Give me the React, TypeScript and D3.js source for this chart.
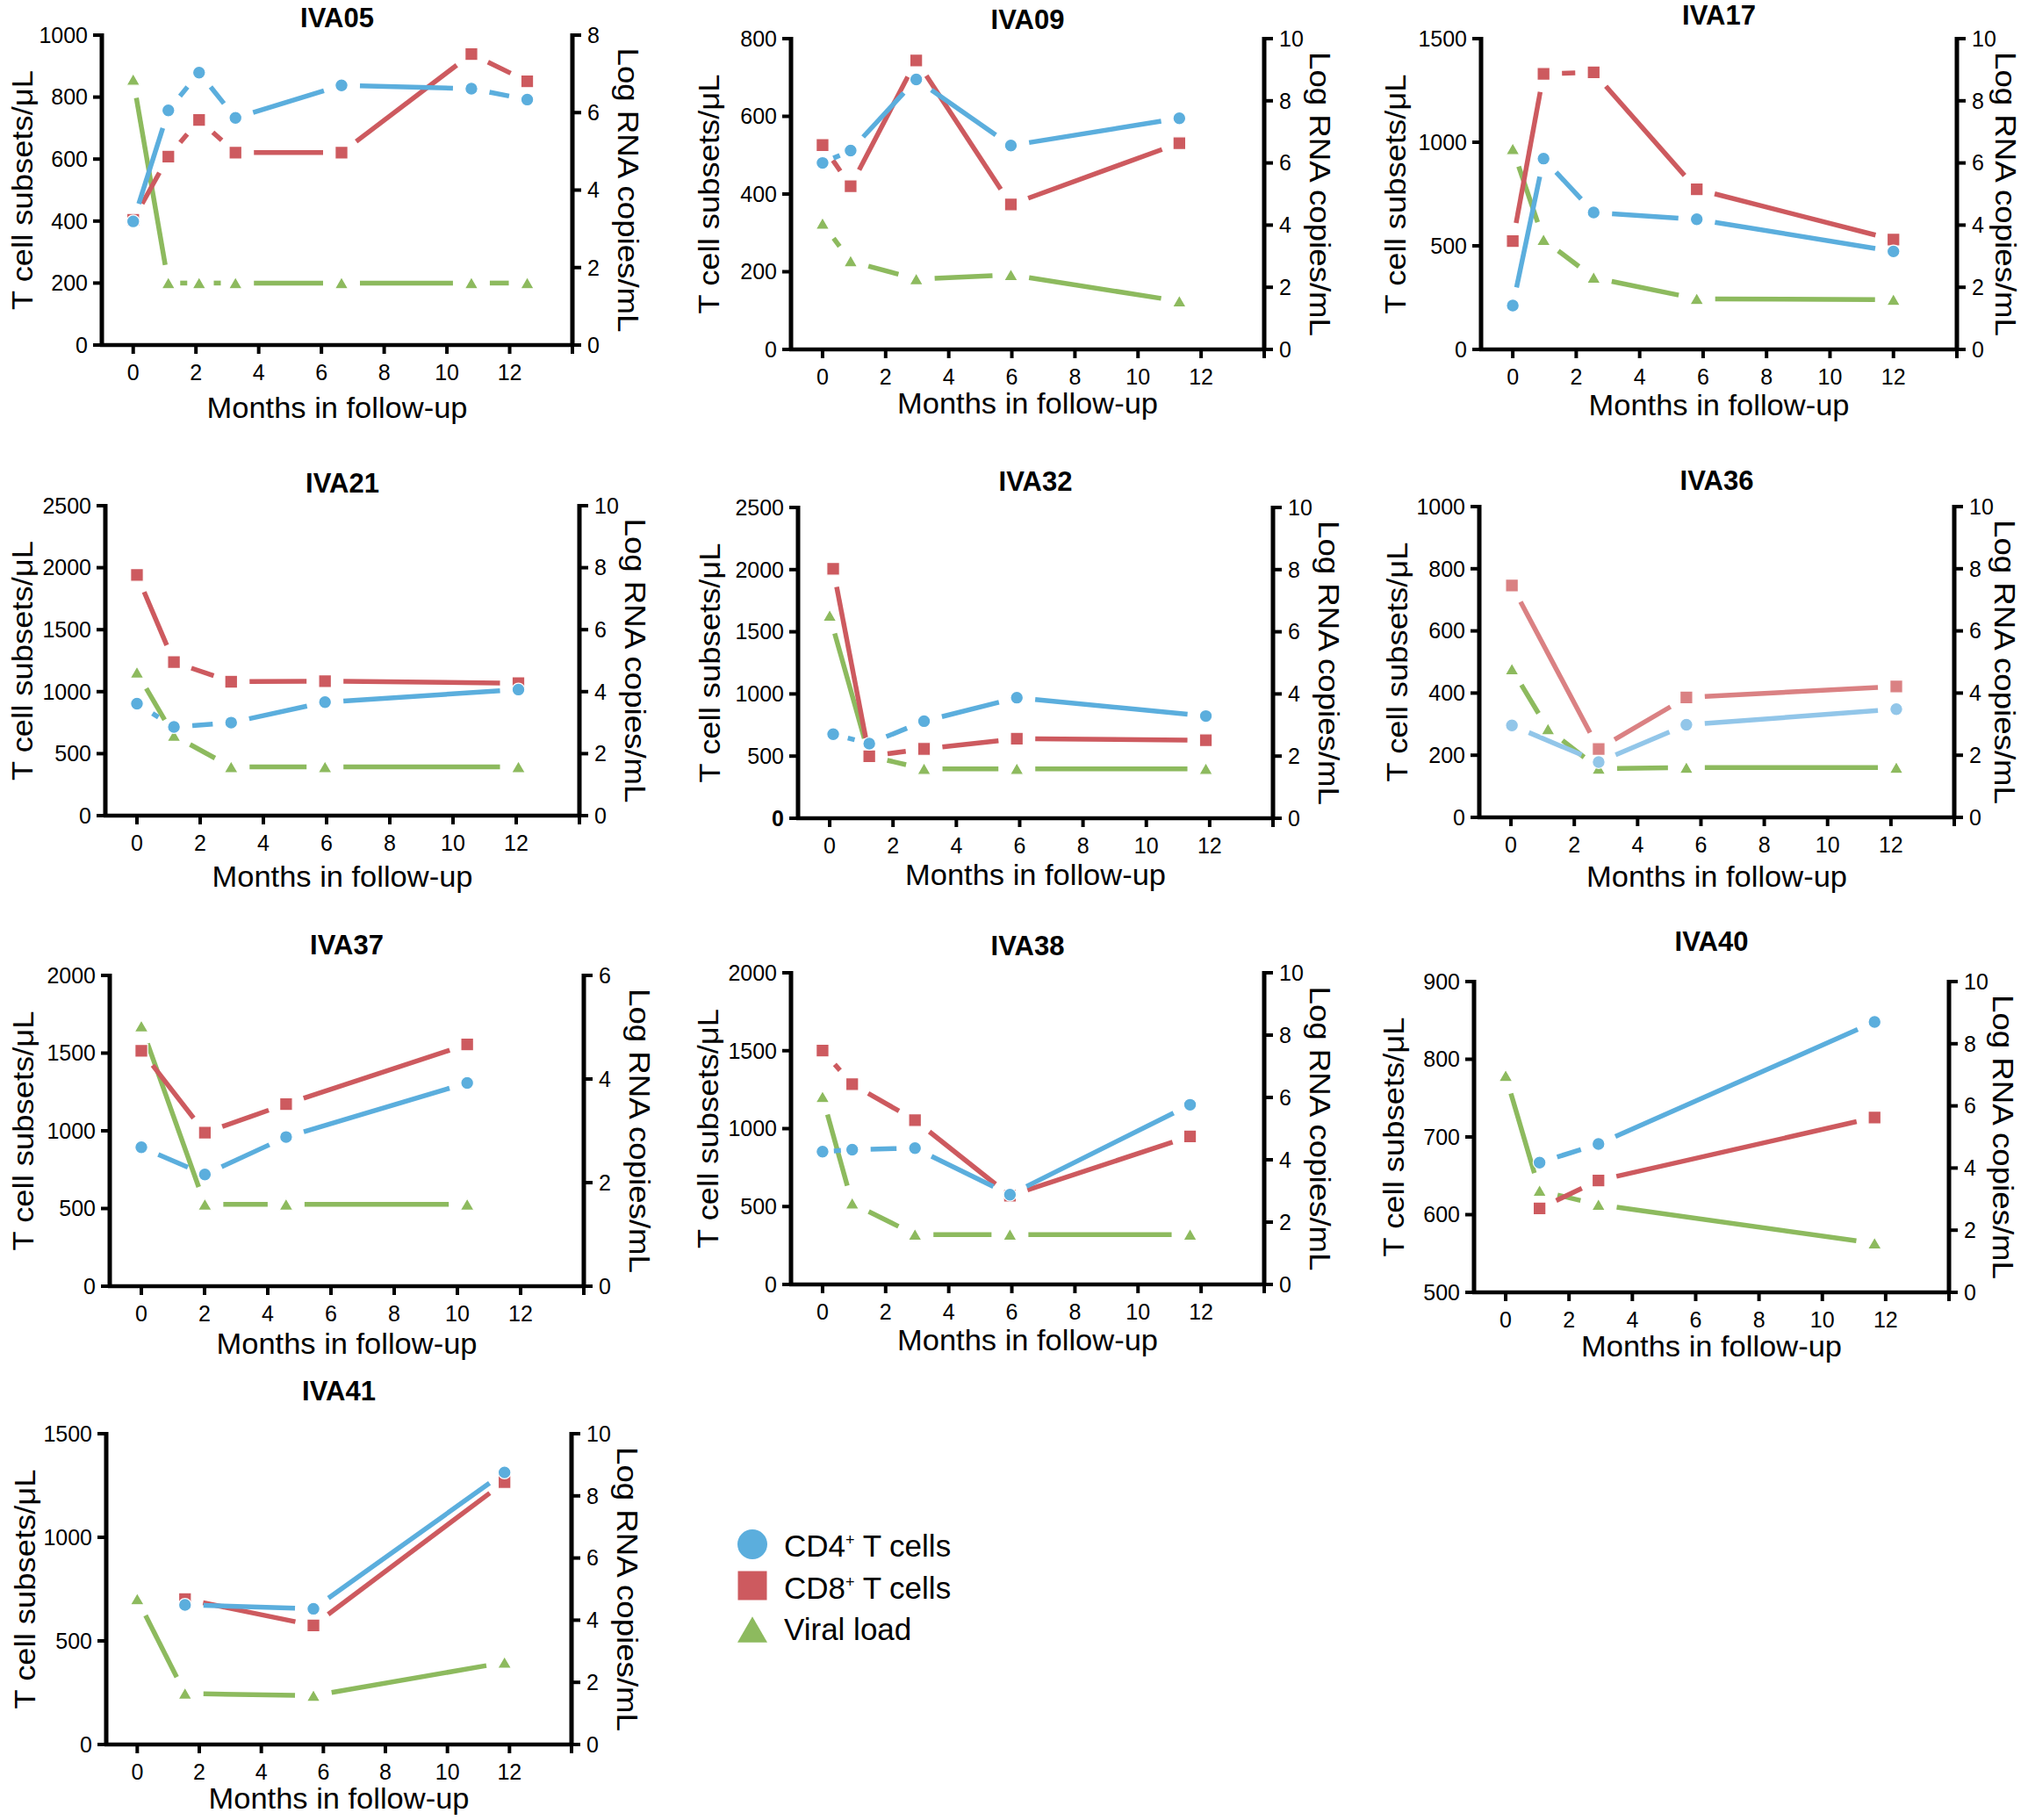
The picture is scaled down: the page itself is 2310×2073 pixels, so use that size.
import React from 'react';
import * as d3 from 'd3';

const W = 2310;
const H = 2073;

const monthDomain = [-1, 14];
const monthTickLabels = [0, 2, 4, 6, 8, 10, 12];
const monthTickMarks = [0, 2, 4, 6, 8, 10, 12, 14];

const legendLabels = ['CD4', 'CD8', 'Viral load'];

// IVA05
const iva05Months = [0, 1.12, 2.1, 3.26, 6.64, 10.78, 12.56];
const iva05CD4 = [399, 757, 879, 733, 838, 827, 792];
const iva05CD8 = [404, 608, 726, 621, 621, 939, 851];
const iva05VL = [6.85, 1.6, 1.6, 1.6, 1.6, 1.6, 1.6];
const iva05LeftTicks = [0, 200, 400, 600, 800, 1000];
const iva05RightTicks = [0, 2, 4, 6, 8];

// IVA09
const iva09Months = [0, 0.89, 2.97, 5.97, 11.31];
const iva09CD4 = [480, 512, 695, 525, 595];
const iva09CD8 = [526, 420, 744, 373, 531];
const iva09VL = [4.05, 2.84, 2.26, 2.4, 1.55];
const iva09LeftTicks = [0, 200, 400, 600, 800];
const iva09RightTicks = [0, 2, 4, 6, 8, 10];

// IVA17
const iva17Months = [0, 0.97, 2.55, 5.8, 12];
const iva17CD4 = [212, 921, 661, 628, 473];
const iva17CD8 = [523, 1330, 1337, 773, 530];
const iva17VL = [6.45, 3.53, 2.31, 1.63, 1.6];
const iva17LeftTicks = [0, 500, 1000, 1500];
const iva17RightTicks = [0, 2, 4, 6, 8, 10];

// IVA21
const iva21Months = [0, 1.17, 2.98, 5.95, 12.07];
const iva21CD4 = [903, 715, 750, 915, 1017];
const iva21CD8 = [1941, 1238, 1080, 1085, 1068];
const iva21VL = [4.62, 2.58, 1.57, 1.57, 1.57];
const iva21LeftTicks = [0, 500, 1000, 1500, 2000, 2500];
const iva21RightTicks = [0, 2, 4, 6, 8, 10];

// IVA32
const iva32Months = [0.11, 1.25, 2.98, 5.91, 11.88];
const iva32CD4 = [676, 600, 781, 970, 822];
const iva32CD8 = [2006, 499, 558, 640, 628];
const iva32VLMonths = [0, 1.25, 2.98, 5.91, 11.88];
const iva32VL = [6.52, 2.0, 1.59, 1.59, 1.59];
const iva32LeftTicks = [0, 500, 1000, 1500, 2000, 2500];
const iva32RightTicks = [0, 2, 4, 6, 8, 10];

// IVA36
const iva36Months = [0.03, 2.77, 5.54, 12.17];
const iva36CD4 = [296, 178, 298, 348];
const iva36CD8 = [746, 220, 386, 421];
const iva36VLMonths = [0.03, 1.17, 2.77, 5.54, 12.17];
const iva36VL = [4.77, 2.84, 1.57, 1.6, 1.6];
const iva36LeftTicks = [0, 200, 400, 600, 800, 1000];
const iva36RightTicks = [0, 2, 4, 6, 8, 10];

// IVA37
const iva37Months = [0, 2.01, 4.58, 10.31];
const iva37CD4 = [894, 719, 960, 1308];
const iva37CD8 = [1515, 988, 1172, 1556];
const iva37VL = [5.02, 1.58, 1.58, 1.58];
const iva37LeftTicks = [0, 500, 1000, 1500, 2000];
const iva37RightTicks = [0, 2, 4, 6];

// IVA38
const iva38Months = [0, 0.94, 2.93, 5.94, 11.65];
const iva38CD4 = [852, 865, 875, 576, 1153];
const iva38CD8 = [1501, 1285, 1054, 570, 950];
const iva38VL = [6.02, 2.6, 1.6, 1.6, 1.6];
const iva38LeftTicks = [0, 500, 1000, 1500, 2000];
const iva38RightTicks = [0, 2, 4, 6, 8, 10];

// IVA40
const iva40Months = [1.07, 2.93, 11.65];
const iva40CD4 = [667, 691, 848];
const iva40CD8 = [608, 644, 725];
const iva40VLMonths = [0, 1.07, 2.93, 11.65];
const iva40VL = [6.97, 3.27, 2.82, 1.58];
const iva40LeftTicks = [500, 600, 700, 800, 900];
const iva40RightTicks = [0, 2, 4, 6, 8, 10];

// IVA41
const iva41Months = [1.54, 5.68, 11.84];
const iva41CD4 = [674, 655, 1313];
const iva41CD8 = [702, 575, 1267];
const iva41VLMonths = [0, 1.54, 5.68, 11.84];
const iva41VL = [4.68, 1.64, 1.57, 2.64];
const iva41LeftTicks = [0, 500, 1000, 1500];
const iva41RightTicks = [0, 2, 4, 6, 8, 10];

const panels = [
  { name: 'IVA05', months: iva05Months, cd4: iva05CD4, cd8: iva05CD8, vlMonths: iva05Months, vl: iva05VL, leftTicks: iva05LeftTicks, rightTicks: iva05RightTicks },
  { name: 'IVA09', months: iva09Months, cd4: iva09CD4, cd8: iva09CD8, vlMonths: iva09Months, vl: iva09VL, leftTicks: iva09LeftTicks, rightTicks: iva09RightTicks },
  { name: 'IVA17', months: iva17Months, cd4: iva17CD4, cd8: iva17CD8, vlMonths: iva17Months, vl: iva17VL, leftTicks: iva17LeftTicks, rightTicks: iva17RightTicks },
  { name: 'IVA21', months: iva21Months, cd4: iva21CD4, cd8: iva21CD8, vlMonths: iva21Months, vl: iva21VL, leftTicks: iva21LeftTicks, rightTicks: iva21RightTicks },
  { name: 'IVA32', months: iva32Months, cd4: iva32CD4, cd8: iva32CD8, vlMonths: iva32VLMonths, vl: iva32VL, leftTicks: iva32LeftTicks, rightTicks: iva32RightTicks },
  { name: 'IVA36', months: iva36Months, cd4: iva36CD4, cd8: iva36CD8, vlMonths: iva36VLMonths, vl: iva36VL, leftTicks: iva36LeftTicks, rightTicks: iva36RightTicks },
  { name: 'IVA37', months: iva37Months, cd4: iva37CD4, cd8: iva37CD8, vlMonths: iva37Months, vl: iva37VL, leftTicks: iva37LeftTicks, rightTicks: iva37RightTicks },
  { name: 'IVA38', months: iva38Months, cd4: iva38CD4, cd8: iva38CD8, vlMonths: iva38Months, vl: iva38VL, leftTicks: iva38LeftTicks, rightTicks: iva38RightTicks },
  { name: 'IVA40', months: iva40Months, cd4: iva40CD4, cd8: iva40CD8, vlMonths: iva40VLMonths, vl: iva40VL, leftTicks: iva40LeftTicks, rightTicks: iva40RightTicks },
  { name: 'IVA41', months: iva41Months, cd4: iva41CD4, cd8: iva41CD8, vlMonths: iva41VLMonths, vl: iva41VL, leftTicks: iva41LeftTicks, rightTicks: iva41RightTicks },
];

// Layout (pixel boxes of each panel's plotting area)
const layout = [
  { L: 116, R: 652, T: 40, B: 393, titleY: 31, xTitleY: 476, yLabDx: 79, rLabDx: 52 },
  { L: 901, R: 1440, T: 44, B: 398, titleY: 33, xTitleY: 471, yLabDx: 82, rLabDx: 52 },
  { L: 1687, R: 2229, T: 44, B: 398, titleY: 28, xTitleY: 473, yLabDx: 86, rLabDx: 44 },
  { L: 120, R: 660, T: 576, B: 929, titleY: 561, xTitleY: 1010, yLabDx: 83, rLabDx: 52 },
  { L: 909, R: 1450, T: 578, B: 932, titleY: 559, xTitleY: 1008, yLabDx: 89, rLabDx: 52 },
  { L: 1685, R: 2226, T: 577, B: 931, titleY: 558, xTitleY: 1010, yLabDx: 82, rLabDx: 46 },
  { L: 125, R: 665, T: 1111, B: 1465, titleY: 1087, xTitleY: 1542, yLabDx: 87, rLabDx: 52 },
  { L: 901, R: 1440, T: 1108, B: 1463, titleY: 1088, xTitleY: 1538, yLabDx: 83, rLabDx: 52 },
  { L: 1679, R: 2220, T: 1118, B: 1472, titleY: 1083, xTitleY: 1545, yLabDx: 80, rLabDx: 50 },
  { L: 121, R: 651, T: 1633, B: 1987, titleY: 1595, xTitleY: 2060, yLabDx: 81, rLabDx: 52 },
];

const COLORS = { cd4: '#5BAEDD', cd8: '#CD5A5F', vl: '#8DBA5E' };
const LIGHT = { cd4: '#92C6E9', cd8: '#DA8183', vl: '#8DBA5E' };

const FONT = "'Liberation Sans', Arial, Helvetica, sans-serif";
const GAP = 21;

const circleSym = d3.symbol().type(d3.symbolCircle).size(Math.PI * 7.3 * 7.3)();
const squareSym = d3.symbol().type(d3.symbolSquare).size(14.5 * 14.5)();
const triSym = d3.symbol().type(d3.symbolTriangle).size((Math.sqrt(3) / 4) * 15.5 * 15.5)();

const lineGen = d3.line();

function gapSegments(pts: [number, number][]) {
  const segs: string[] = [];
  for (let i = 0; i < pts.length - 1; i++) {
    const [x1, y1] = pts[i];
    const [x2, y2] = pts[i + 1];
    const dx = x2 - x1;
    const dy = y2 - y1;
    const d = Math.hypot(dx, dy);
    const g = Math.min(GAP, Math.max(0, (d - 8) / 2));
    if (d - 2 * g < 3) continue;
    const ux = dx / d;
    const uy = dy / d;
    segs.push(lineGen([[x1 + ux * g, y1 + uy * g], [x2 - ux * g, y2 - uy * g]]) as string);
  }
  return segs;
}

function Panel({ p, lay, light }: any) {
  const { L, R, T, B } = lay;
  const x = d3.scaleLinear().domain(monthDomain).range([L, R]);
  const yl = d3.scaleLinear().domain([p.leftTicks[0], p.leftTicks[p.leftTicks.length - 1]]).range([B, T]);
  const yr = d3.scaleLinear().domain([p.rightTicks[0], p.rightTicks[p.rightTicks.length - 1]]).range([B, T]);
  const col = light ? LIGHT : COLORS;

  const cd4Pts: [number, number][] = p.months.map((m: number, i: number) => [x(m), yl(p.cd4[i])]);
  const cd8Pts: [number, number][] = p.months.map((m: number, i: number) => [x(m), yl(p.cd8[i])]);
  const vlPts: [number, number][] = p.vlMonths.map((m: number, i: number) => [x(m), yr(p.vl[i])]);

  const midY = (T + B) / 2;
  const midX = (L + R) / 2;

  return (
    <g>
      <text x={midX} y={lay.titleY} textAnchor="middle" fontSize={31} fontWeight="bold" fontFamily={FONT}>{p.name}</text>

      {gapSegments(vlPts).map((d, i) => <path key={'vl' + i} d={d} stroke={col.vl} strokeWidth={5.5} fill="none" />)}
      {gapSegments(cd8Pts).map((d, i) => <path key={'c8' + i} d={d} stroke={col.cd8} strokeWidth={5.5} fill="none" />)}
      {gapSegments(cd4Pts).map((d, i) => <path key={'c4' + i} d={d} stroke={col.cd4} strokeWidth={5.5} fill="none" />)}

      {vlPts.map(([px, py], i) => <path key={'mv' + i} d={triSym} transform={`translate(${px},${py + 2})`} fill={col.vl} stroke="#fff" strokeWidth={1.2} />)}
      {cd8Pts.map(([px, py], i) => <path key={'m8' + i} d={squareSym} transform={`translate(${px},${py})`} fill={col.cd8} stroke="#fff" strokeWidth={1.2} />)}
      {cd4Pts.map(([px, py], i) => <path key={'m4' + i} d={circleSym} transform={`translate(${px},${py})`} fill={col.cd4} stroke="#fff" strokeWidth={1.2} />)}

      <g stroke="#000" fill="none">
        <line x1={L} y1={T - 2} x2={L} y2={B + 2} strokeWidth={5} />
        <line x1={R} y1={T - 2} x2={R} y2={B + 2} strokeWidth={5} />
        <line x1={L - 2} y1={B} x2={R + 2} y2={B} strokeWidth={4.5} />
        {monthTickMarks.map((m) => <line key={'xt' + m} x1={x(m)} y1={B} x2={x(m)} y2={B + 10} strokeWidth={4} />)}
        {p.leftTicks.map((v: number) => <line key={'lt' + v} x1={L - 10} y1={yl(v)} x2={L} y2={yl(v)} strokeWidth={4} />)}
        {p.rightTicks.map((v: number) => <line key={'rt' + v} x1={R} y1={yr(v)} x2={R + 10} y2={yr(v)} strokeWidth={4} />)}
      </g>

      <g fontFamily={FONT} fontSize={25} fill="#000">
        {monthTickLabels.map((m) => (
          <text key={'xl' + m} x={x(m)} y={B + 40} textAnchor="middle">{m}</text>
        ))}
        {p.leftTicks.map((v: number) => (
          <text key={'ll' + v} x={L - 16} y={yl(v)} dy="0.35em" textAnchor="end"
            fontWeight={p.name === 'IVA32' && v === 0 ? 'bold' : 'normal'}>{v}</text>
        ))}
        {p.rightTicks.map((v: number) => (
          <text key={'rl' + v} x={R + 17} y={yr(v)} dy="0.35em" textAnchor="start">{v}</text>
        ))}
      </g>

      <g fontFamily={FONT} fontSize={34} fill="#000">
        <text transform={`translate(${L - lay.yLabDx},${midY}) rotate(-90)`} textAnchor="middle"
          textLength={273} lengthAdjust="spacingAndGlyphs">T cell subsets/μL</text>
        <text transform={`translate(${R + lay.rLabDx},${midY}) rotate(90)`} textAnchor="middle"
          textLength={324} lengthAdjust="spacingAndGlyphs">Log RNA copies/mL</text>
        <text x={midX} y={lay.xTitleY} textAnchor="middle"
          textLength={297} lengthAdjust="spacingAndGlyphs">Months in follow-up</text>
      </g>
    </g>
  );
}

function Legend() {
  const bigCircle = d3.symbol().type(d3.symbolCircle).size(Math.PI * 17 * 17)();
  const bigSquare = d3.symbol().type(d3.symbolSquare).size(33 * 33)();
  const bigTri = d3.symbol().type(d3.symbolTriangle).size((Math.sqrt(3) / 4) * 34 * 34)();
  const lx = 857;
  const tx = 893;
  return (
    <g fontFamily={FONT} fontSize={35} fill="#000">
      <path d={bigCircle} transform={`translate(${lx},1759)`} fill={COLORS.cd4} />
      <path d={bigSquare} transform={`translate(${lx},1806)`} fill={COLORS.cd8} />
      <path d={bigTri} transform={`translate(${lx},1861)`} fill={COLORS.vl} />
      <text x={tx} y={1773}>{legendLabels[0]}<tspan dy={-13} fontSize={18}>+</tspan><tspan dy={13}> T cells</tspan></text>
      <text x={tx} y={1821}>{legendLabels[1]}<tspan dy={-13} fontSize={18}>+</tspan><tspan dy={13}> T cells</tspan></text>
      <text x={tx} y={1868}>{legendLabels[2]}</text>
    </g>
  );
}

export default function App() {
  return (
    <svg width={W} height={H} viewBox={`0 0 ${W} ${H}`}
      style={{ position: 'absolute', left: 0, top: 0, display: 'block', background: '#fff' }}>
      <rect x={0} y={0} width={W} height={H} fill="#fff" />
      {panels.map((p, i) => (
        <Panel key={p.name} p={p} lay={layout[i]} light={p.name === 'IVA36'} />
      ))}
      <Legend />
    </svg>
  );
}
